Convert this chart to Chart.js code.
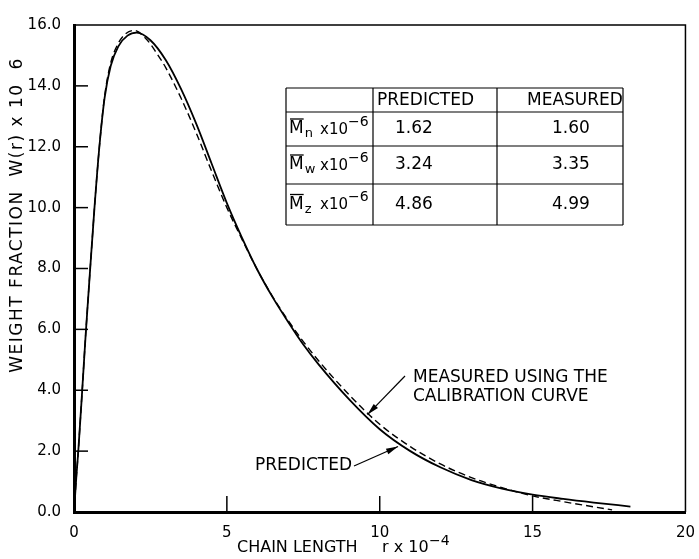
<!DOCTYPE html>
<html lang="en">
<head>
<meta charset="UTF-8">
<title>Weight fraction vs chain length</title>
<script src="https://cdn.jsdelivr.net/npm/chart.js"></script>
<style>
    body { margin: 0; background: #fff; }
    canvas { display: block; }
</style>
</head>
<body>
<canvas id="chart" width="699" height="559"></canvas>
<script>
    // chain length r x 10^-4 and weight fraction W(r) x 10^6
    const rPredicted = [0, 0.04, 0.08, 0.14, 0.25, 0.38, 0.53, 0.67, 0.83, 1.0, 1.2, 1.45, 1.75, 2.05, 2.5, 3.0, 3.5, 4.0, 4.5, 5.0, 5.5, 6.0, 6.5, 7.0, 7.5, 8.0, 9.0, 10.0, 11.0, 12.0, 13.0, 14.0, 15.0, 16.0, 17.0, 18.2];
    const wPredicted = [0, 0.6, 1.2, 2.0, 3.7, 5.8, 8.0, 10.0, 12.0, 13.6, 14.65, 15.3, 15.65, 15.75, 15.5, 14.85, 13.9, 12.75, 11.45, 10.15, 9.0, 7.95, 7.05, 6.25, 5.5, 4.85, 3.7, 2.72, 2.0, 1.46, 1.05, 0.77, 0.57, 0.43, 0.31, 0.18];

    const rMeasured = [0, 0.04, 0.08, 0.14, 0.25, 0.38, 0.53, 0.67, 0.83, 1.0, 1.2, 1.45, 1.7, 1.97, 2.4, 2.7, 3.0, 3.5, 4.0, 4.5, 5.0, 5.5, 6.0, 6.5, 7.0, 7.5, 8.0, 9.0, 10.0, 11.0, 12.0, 13.0, 14.0, 15.0, 16.0, 17.0, 17.6];
    const wMeasured = [0, 0.6, 1.2, 2.0, 3.7, 5.8, 8.0, 10.0, 12.0, 13.65, 14.75, 15.4, 15.72, 15.82, 15.5, 15.08, 14.6, 13.6, 12.45, 11.2, 10.0, 8.95, 7.95, 7.07, 6.3, 5.6, 4.97, 3.85, 2.88, 2.15, 1.57, 1.13, 0.8, 0.53, 0.34, 0.17, 0.07];

    // inset table
    const tableHeads = ['PREDICTED', 'MEASURED'];
    const momentSubs = ['n', 'w', 'z'];
    const predictedMoments = ['1.62', '3.24', '4.86'];
    const measuredMoments = ['1.60', '3.35', '4.99'];

    const FONT = '"DejaVu Sans", sans-serif';

    function toPoints(xs, ys) {
        return xs.map((v, i) => ({ x: v, y: ys[i] }));
    }

    function line(ctx, x0, y0, x1, y1) {
        ctx.beginPath();
        ctx.moveTo(x0, y0);
        ctx.lineTo(x1, y1);
        ctx.stroke();
    }

    function arrow(ctx, x0, y0, x1, y1) {
        line(ctx, x0, y0, x1, y1);
        const ang = Math.atan2(y1 - y0, x1 - x0);
        const len = 12, half = 3;
        ctx.beginPath();
        ctx.moveTo(x1, y1);
        ctx.lineTo(x1 - len * Math.cos(ang) + half * Math.sin(ang), y1 - len * Math.sin(ang) - half * Math.cos(ang));
        ctx.lineTo(x1 - len * Math.cos(ang) - half * Math.sin(ang), y1 - len * Math.sin(ang) + half * Math.cos(ang));
        ctx.closePath();
        ctx.fill();
    }

    const overlay = {
        id: 'overlay',
        afterDraw(chart) {
            const { ctx, chartArea: a, scales: { x, y } } = chart;
            ctx.save();
            ctx.strokeStyle = '#000';
            ctx.fillStyle = '#000';

            // thin frame on top and right
            ctx.lineWidth = 1.5;
            ctx.beginPath();
            ctx.moveTo(a.left, a.top);
            ctx.lineTo(a.right, a.top);
            ctx.lineTo(a.right, a.bottom);
            ctx.stroke();

            // tick marks pointing inward
            y.ticks.forEach(t => {
                if (t.value > 0 && t.value < y.max) {
                    const py = y.getPixelForValue(t.value);
                    line(ctx, a.left, py, a.left + 14, py);
                }
            });
            x.ticks.forEach(t => {
                if (t.value > 0 && t.value < x.max) {
                    const px = x.getPixelForValue(t.value);
                    line(ctx, px, a.bottom, px, a.bottom - 16);
                }
            });

            // axis titles
            ctx.textBaseline = 'middle';
            ctx.font = '16px ' + FONT;
            ctx.textAlign = 'left';
            ctx.fillText('CHAIN LENGTH', 237, 548);
            ctx.fillText('r x 10', 382, 548);
            ctx.font = '14px ' + FONT;
            ctx.fillText('\u22124', 429, 541);

            ctx.save();
            ctx.translate(18, 215);
            ctx.rotate(-Math.PI / 2);
            ctx.textAlign = 'center';
            ctx.font = '17px ' + FONT;
            ctx.letterSpacing = '1.5px';
            ctx.fillText('WEIGHT FRACTION  W(r) x 10  6', 0, 0);
            ctx.restore();

            // inset table
            const cols = [286, 373, 497, 623];
            const rows = [88, 112, 146, 184, 225];
            ctx.lineWidth = 1.2;
            cols.forEach(cx => line(ctx, cx, rows[0], cx, rows[rows.length - 1]));
            rows.forEach(ry => line(ctx, cols[0], ry, cols[cols.length - 1], ry));

            ctx.font = '17px ' + FONT;
            ctx.textAlign = 'left';
            ctx.fillText(tableHeads[0], 377, 101);
            ctx.fillText(tableHeads[1], 527, 101);

            momentSubs.forEach((sub, i) => {
                const cy = (rows[i + 1] + rows[i + 2]) / 2;
                ctx.font = '17px ' + FONT;
                ctx.textAlign = 'left';
                ctx.fillText('M', 289, cy);
                const mw = ctx.measureText('M').width;
                ctx.lineWidth = 1.3;
                line(ctx, 290, cy - 10, 289 + mw, cy - 10);
                ctx.font = '13px ' + FONT;
                ctx.fillText(sub, 289 + mw + 1, cy + 5);
                ctx.font = '15px ' + FONT;
                ctx.fillText('x10', 320, cy + 1);
                ctx.font = '14px ' + FONT;
                ctx.fillText('\u22126', 348, cy - 7);

                ctx.font = '17px ' + FONT;
                ctx.fillText(predictedMoments[i], 395, cy);
                ctx.fillText(measuredMoments[i], 552, cy);
            });

            // annotations
            ctx.lineWidth = 1.2;
            ctx.font = '17px ' + FONT;
            ctx.textAlign = 'left';
            ctx.fillText('MEASURED USING THE', 413, 378);
            ctx.fillText('CALIBRATION CURVE', 413, 397);
            arrow(ctx, 405, 376, x.getPixelForValue(9.6), y.getPixelForValue(3.2));

            ctx.textAlign = 'right';
            ctx.fillText('PREDICTED', 352, 466);
            arrow(ctx, 354, 466, x.getPixelForValue(10.6), y.getPixelForValue(2.15));

            ctx.restore();
        }
    };

    new Chart(document.getElementById('chart'), {
        type: 'scatter',
        data: {
            datasets: [
                {
                    label: 'Predicted',
                    data: toPoints(rPredicted, wPredicted),
                    showLine: true,
                    borderColor: '#000',
                    borderWidth: 1.8,
                    pointRadius: 0,
                    cubicInterpolationMode: 'monotone'
                },
                {
                    label: 'Measured using the calibration curve',
                    data: toPoints(rMeasured, wMeasured),
                    showLine: true,
                    borderColor: '#000',
                    borderWidth: 1.4,
                    borderDash: [7, 4],
                    pointRadius: 0,
                    cubicInterpolationMode: 'monotone'
                }
            ]
        },
        options: {
            responsive: false,
            animation: false,
            layout: { padding: { top: 25, right: 12, left: 0, bottom: 0 } },
            plugins: {
                legend: { display: false },
                tooltip: { enabled: false }
            },
            scales: {
                x: {
                    type: 'linear',
                    min: 0,
                    max: 20,
                    ticks: { stepSize: 5, color: '#000', font: { family: FONT, size: 15 }, padding: 4, maxRotation: 0 },
                    grid: { display: false },
                    border: { display: true, color: '#000', width: 3 },
                    afterFit(scale) { scale.height = 47; }
                },
                y: {
                    min: 0,
                    max: 16,
                    ticks: {
                        stepSize: 2,
                        color: '#000',
                        font: { family: FONT, size: 15 },
                        padding: 5,
                        callback: v => v.toFixed(1)
                    },
                    grid: { display: false },
                    border: { display: true, color: '#000', width: 3 },
                    afterFit(scale) { scale.width = 74; }
                }
            }
        },
        plugins: [overlay]
    });
</script>
</body>
</html>
